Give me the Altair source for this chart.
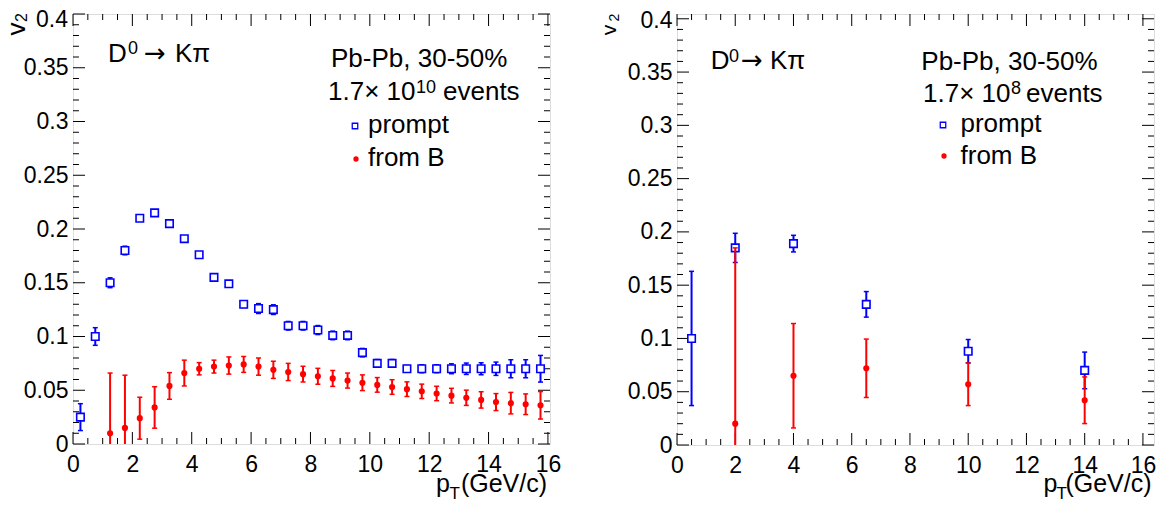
import altair as alt
import pandas as pd

FONT = "Liberation Sans"
BLUE = "#0000ff"
RED = "#ff0000"

# ---------------- data: left panel (1.7x10^10 events) ----------------
left_prompt_pt = [0.25, 0.75, 1.25, 1.75, 2.25, 2.75, 3.25, 3.75, 4.25, 4.75, 5.25, 5.75,
                  6.25, 6.75, 7.25, 7.75, 8.25, 8.75, 9.25, 9.75, 10.25, 10.75, 11.25, 11.75,
                  12.25, 12.75, 13.25, 13.75, 14.25, 14.75, 15.25, 15.75]
left_prompt_v2 = [0.025, 0.100, 0.150, 0.180, 0.210, 0.215, 0.205, 0.191, 0.176, 0.155, 0.149, 0.130,
                  0.126, 0.125, 0.110, 0.110, 0.106, 0.101, 0.101, 0.085, 0.075, 0.075, 0.070, 0.070,
                  0.070, 0.070, 0.070, 0.070, 0.070, 0.070, 0.070, 0.070]
left_prompt_err = [0.0125, 0.0082, 0.0046, 0.0040, 0.0020, 0.0020, 0.0020, 0.0020, 0.0020, 0.0020, 0.0020, 0.0030,
                   0.0046, 0.0045, 0.0040, 0.0040, 0.0042, 0.0040, 0.0040, 0.0039, 0.0036, 0.0036, 0.0030, 0.0037,
                   0.0037, 0.0046, 0.0053, 0.0056, 0.0062, 0.0084, 0.0084, 0.0124]

left_fromb_pt = [1.25, 1.75, 2.25, 2.75, 3.25, 3.75, 4.25, 4.75, 5.25, 5.75, 6.25, 6.75,
                 7.25, 7.75, 8.25, 8.75, 9.25, 9.75, 10.25, 10.75, 11.25, 11.75, 12.25, 12.75,
                 13.25, 13.75, 14.25, 14.75, 15.25, 15.75]
left_fromb_v2 = [0.010, 0.015, 0.024, 0.034, 0.054, 0.066, 0.070, 0.072, 0.073, 0.074, 0.072, 0.069,
                 0.067, 0.065, 0.063, 0.061, 0.059, 0.057, 0.055, 0.053, 0.051, 0.049, 0.047, 0.045,
                 0.043, 0.041, 0.039, 0.038, 0.037, 0.036]
left_fromb_err = [0.056, 0.049, 0.0195, 0.0193, 0.0124, 0.012, 0.0057, 0.006, 0.008, 0.0074, 0.008, 0.008,
                  0.008, 0.0073, 0.0074, 0.0074, 0.007, 0.0073, 0.0068, 0.0068, 0.0068, 0.0067, 0.0067, 0.0068,
                  0.0071, 0.0076, 0.0079, 0.010, 0.0096, 0.0128]

# ---------------- data: right panel (1.7x10^8 events) ----------------
right_prompt_pt = [0.5, 2.0, 4.0, 6.5, 10.0, 14.0]
right_prompt_v2 = [0.100, 0.185, 0.189, 0.132, 0.088, 0.070]
right_prompt_err = [0.063, 0.0137, 0.0078, 0.012, 0.011, 0.0172]

right_fromb_pt = [2.0, 4.0, 6.5, 10.0, 14.0]
right_fromb_v2 = [0.020, 0.065, 0.072, 0.057, 0.042]
right_fromb_err = [0.165, 0.049, 0.0274, 0.020, 0.0219]

# ---------------- axis tick labels ----------------
x_labels = [0, 2, 4, 6, 8, 10, 12, 14, 16]
y_labels = [0, 0.05, 0.1, 0.15, 0.2, 0.25, 0.3, 0.35]
x_minor = [v / 2 for v in range(0, 33)]
y_minor = [v / 100 for v in range(0, 41)]
y_major = [0, 0.05, 0.1, 0.15, 0.2, 0.25, 0.3, 0.35, 0.4]

ONE = pd.DataFrame({"a": [0]})


def txt(s, x, y, size, align="left", angle=0, font=FONT):
    return alt.Chart(ONE).mark_text(
        text=s, fontSize=size, font=font, align=align, baseline="alphabetic",
        angle=angle, color="black"
    ).encode(x=alt.value(x), y=alt.value(y))


def panel(pp, pv, pe, bp, bv, be, xmax, ymax, W, H, T):
    xs = alt.Scale(domain=[0, xmax], nice=False, zero=False)
    ys = alt.Scale(domain=[0, ymax], nice=False, zero=False)
    xax = alt.Axis(values=x_labels, format="d", title="", ticks=False, domain=False, grid=False,
                   labelFontSize=23, labelPadding=9, labelFlush=False, labelOverlap=False,
                   labelFont=FONT, labelColor="black")
    yax = alt.Axis(values=y_labels, format="~g", title="", ticks=False, domain=False, grid=False,
                   labelFontSize=23, labelPadding=5, labelFlush=False, labelOverlap=False,
                   labelFont=FONT, labelColor="black")

    def X(f):
        return alt.X(f"{f}:Q", scale=xs, axis=xax)

    def Y(f):
        return alt.Y(f"{f}:Q", scale=ys, axis=yax)

    dp = pd.DataFrame({"x": pp, "y": pv, "e": pe})
    dp["lo"] = dp["y"] - dp["e"]
    dp["hi"] = dp["y"] + dp["e"]
    db = pd.DataFrame({"x": bp, "y": bv, "e": be})
    db["lo"] = db["y"] - db["e"]
    db["hi"] = db["y"] + db["e"]
    cp = pd.concat([dp[["x", "lo"]].rename(columns={"lo": "c"}),
                    dp[["x", "hi"]].rename(columns={"hi": "c"})])
    cb = pd.concat([db[["x", "lo"]].rename(columns={"lo": "c"}),
                    db[["x", "hi"]].rename(columns={"hi": "c"})])

    xmaj = pd.DataFrame({"x": x_labels})
    xmin = pd.DataFrame({"x": [v for v in x_minor if v not in x_labels]})
    ymaj = pd.DataFrame({"y": y_major})
    ymin = pd.DataFrame({"y": [v for v in y_minor if all(abs(v - m) > 1e-9 for m in y_major)]})

    tick = dict(color="black", strokeWidth=1)
    layers = []
    for d, L in ((xmaj, 12), (xmin, 6)):
        layers.append(alt.Chart(d).mark_rule(**tick).encode(x=X("x"), y=alt.value(H), y2=alt.value(H - L)))
        layers.append(alt.Chart(d).mark_rule(**tick).encode(x=X("x"), y=alt.value(0), y2=alt.value(L)))
    for d, L in ((ymaj, 12), (ymin, 6)):
        layers.append(alt.Chart(d).mark_rule(**tick).encode(y=Y("y"), x=alt.value(0), x2=alt.value(L)))
        layers.append(alt.Chart(d).mark_rule(**tick).encode(y=Y("y"), x=alt.value(W), x2=alt.value(W - L)))

    # prompt
    layers.append(alt.Chart(dp).mark_rule(color=BLUE, strokeWidth=2, clip=True).encode(
        x=X("x"), y=Y("lo"), y2="hi:Q"))
    layers.append(alt.Chart(cp).mark_tick(color=BLUE, orient="horizontal", size=5, thickness=1.5,
                                          clip=True, opacity=1).encode(x=X("x"), y=Y("c")))
    layers.append(alt.Chart(dp).mark_point(shape="square", size=56, filled=True, fill="white",
                                           stroke=BLUE, strokeWidth=1.6, opacity=1).encode(
        x=X("x"), y=Y("y")))
    # from B
    layers.append(alt.Chart(db).mark_rule(color=RED, strokeWidth=2, clip=True).encode(
        x=X("x"), y=Y("lo"), y2="hi:Q"))
    layers.append(alt.Chart(cb).mark_tick(color=RED, orient="horizontal", size=5, thickness=1.5,
                                          clip=True, opacity=1).encode(x=X("x"), y=Y("c")))
    layers.append(alt.Chart(db).mark_circle(size=38, color=RED, opacity=1).encode(
        x=X("x"), y=Y("y")))

    # annotations
    layers += [
        txt("D", T["D"][0], T["D"][1], 26),
        txt("0", T["D0"][0], T["D0"][1], 18),
        txt("\u2192", T["arrow"][0], T["arrow"][1], 26, font="DejaVu Sans"),
        txt("K\u03c0", T["kpi"][0], T["kpi"][1], 26),
        txt("Pb-Pb, 30-50%", T["pb"][0], T["pb"][1], 26),
        txt("1.7\u00d7 10", T["ev"][0], T["ev"][1], 26),
        txt(T["exp"], T["evs"][0], T["evs"][1], 18),
        txt("events", T["evt"][0], T["evt"][1], 26),
        txt("prompt", T["pt"][0], T["pt"][1], 26),
        txt("from B", T["bt"][0], T["bt"][1], 26),
        txt("0.4", T["l04"][0], T["l04"][1], 23, align="right"),
        txt("v", T["v"][0], T["v"][1], T["vfs"], align="center", angle=270),
        txt("2", T["v2"][0], T["v2"][1], T["v2fs"], align="center", angle=270),
        txt("p", T["p"][0], T["p"][1], 25, align="right"),
        txt("T", T["T"][0], T["T"][1], 17, align="right"),
        txt("(GeV/c)", T["gev"][0], T["gev"][1], 25, align="right"),
        alt.Chart(ONE).mark_point(shape="square", size=30, filled=True, fill="white", stroke=BLUE,
                                  strokeWidth=1.3, opacity=1).encode(
            x=alt.value(T["pm"][0]), y=alt.value(T["pm"][1])),
        alt.Chart(ONE).mark_circle(size=28, color=RED, opacity=1).encode(
            x=alt.value(T["bm"][0]), y=alt.value(T["bm"][1])),
    ]
    return alt.layer(*layers).properties(width=W, height=H)


left_T = {
    "D": (35, 48), "D0": (55, 40), "arrow": (71, 48), "kpi": (102, 48),
    "pb": (258, 53), "ev": (255, 86), "evs": (343, 79), "exp": "10", "evt": (370, 86),
    "pm": (282, 112), "pt": (295, 119), "bm": (283, 145), "bt": (295, 152),
    "l04": (-5, 13), "v": (-48.5, 15), "vfs": 26, "v2": (-45.6, 3.5), "v2fs": 16,
    "p": (377, 478), "T": (387, 485), "gev": (474, 478),
}
right_T = {
    "D": (33.7, 55), "D0": (52, 47.5), "arrow": (64, 55), "kpi": (93, 55),
    "pb": (244.3, 56), "ev": (246, 87.7), "evs": (334, 80), "exp": "8", "evt": (349, 87.7),
    "pm": (266, 111), "pt": (283.5, 118), "bm": (267, 142), "bt": (283.5, 150),
    "l04": (-4.5, 14.3), "v": (-61.2, 16), "vfs": 21, "v2": (-58.5, 3.5), "v2fs": 14,
    "p": (380.5, 478), "T": (390, 485), "gev": (474.5, 478),
}

left = panel(left_prompt_pt, left_prompt_v2, left_prompt_err,
             left_fromb_pt, left_fromb_v2, left_fromb_err,
             16.07, 0.4, 477, 430, left_T)
right = panel(right_prompt_pt, right_prompt_v2, right_prompt_err,
              right_fromb_pt, right_fromb_v2, right_fromb_err,
              16.38, 0.4045, 477, 431, right_T)

chart = alt.hconcat(left, right, spacing=127, bounds="flush").properties(
    padding={"left": -5, "top": 0, "right": 5, "bottom": 5}
).configure_view(stroke="black", strokeWidth=1.5).configure(background="white")

chart.save("out.html", embed_options={"renderer": "svg", "actions": False})
